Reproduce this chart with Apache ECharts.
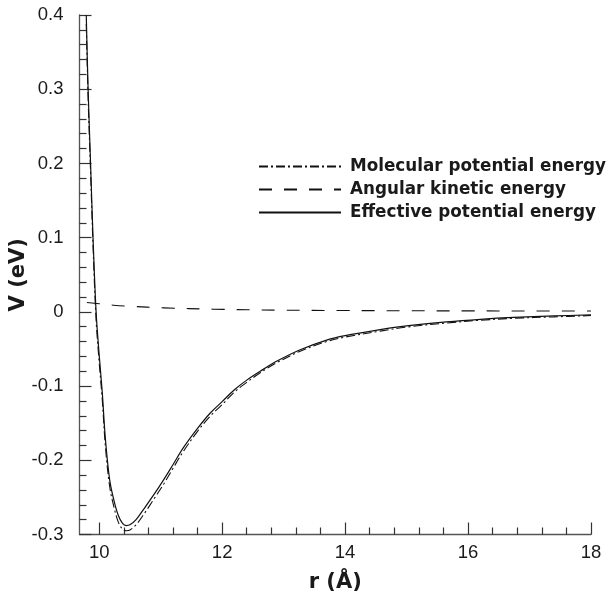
<!DOCTYPE html>
<html>
<head>
<meta charset="utf-8">
<script src="https://cdn.jsdelivr.net/npm/echarts@6/dist/echarts.min.js"></script>
<style>html,body{margin:0;padding:0;background:#fff}#c{width:609px;height:596px}</style>
</head>
<body>
<div id="c"></div>
<script>
// Data
const rEff = [9.79, 9.82, 9.86, 9.90, 9.95, 10.0, 10.05, 10.1, 10.17, 10.24, 10.31, 10.38, 10.44, 10.5, 10.6, 10.74, 10.9, 11.05, 11.2, 11.37, 11.6, 11.8, 12.0, 12.2, 12.4, 12.62, 12.9, 13.27, 13.7, 14.0, 14.57, 15.0, 15.65, 16.2, 16.74, 17.4, 18.0];
const effective = [0.40, 0.30, 0.20, 0.10, 0.00, -0.058, -0.108, -0.170, -0.226, -0.254, -0.274, -0.285, -0.288, -0.287, -0.280, -0.264, -0.245, -0.226, -0.206, -0.183, -0.157, -0.137, -0.121, -0.105, -0.092, -0.080, -0.066, -0.051, -0.038, -0.032, -0.024, -0.019, -0.0135, -0.010, -0.0075, -0.0055, -0.004];
const molecular = [0.388, 0.288, 0.189, 0.089, -0.011, -0.068, -0.118, -0.180, -0.235, -0.263, -0.283, -0.293, -0.295, -0.294, -0.287, -0.271, -0.251, -0.232, -0.211, -0.188, -0.161, -0.141, -0.125, -0.108, -0.095, -0.082, -0.068, -0.053, -0.040, -0.034, -0.026, -0.0205, -0.015, -0.0113, -0.0087, -0.0067, -0.005];
const rAng = [9.80, 10.0, 10.23, 10.5, 11.05, 11.86, 12.94, 14.0, 15.0, 16.0, 17.0, 18.0];
const angular = [0.0127, 0.011, 0.009, 0.0075, 0.0054, 0.0036, 0.0023, 0.0018, 0.0015, 0.0013, 0.0012, 0.0011];
const xMajorTicks = [10, 12, 14, 16, 18];
const xMinorTicks = [10.4, 10.8, 11.2, 11.6, 12.4, 12.8, 13.2, 13.6, 14.4, 14.8, 15.2, 15.6, 16.4, 16.8, 17.2, 17.6];
const seriesNames = ['Molecular potential energy', 'Angular kinetic energy', 'Effective potential energy'];

const pair = (xs, ys) => xs.map((x, i) => [x, ys[i]]);
const FONT = '"Liberation Sans", Arial, Helvetica, sans-serif';
const BFONT = '"DejaVu Sans", "Liberation Sans", Arial, sans-serif';
const AXC = '#555';

const chart = echarts.init(document.getElementById('c'), null, {renderer: 'canvas'});
chart.setOption({
  animation: false,
  backgroundColor: '#fff',
  grid: {left: 79.5, right: 18, top: 15, bottom: 61.5, containLabel: false, outerBoundsMode: 'none'},
  legend: {
    orient: 'vertical', left: 253, top: 153,
    itemWidth: 82, itemHeight: 14, itemGap: 6,
    data: seriesNames,
    itemStyle: {opacity: 0},
    textStyle: {fontFamily: BFONT, fontWeight: 'bold', fontSize: 16.8, color: '#1a1a1a', padding: [0, 0, 0, 4]}
  },
  xAxis: [{
    type: 'value', min: 9.68, max: 18,
    name: 'r (Å)', nameLocation: 'middle', nameGap: 38,
    nameTextStyle: {fontFamily: BFONT, fontWeight: 'bold', fontSize: 21, color: '#1a1a1a'},
    axisLine: {show: true, onZero: false, lineStyle: {color: AXC, width: 1.3}},
    axisTick: {show: true, inside: true, length: 12, customValues: xMajorTicks, lineStyle: {color: '#333', width: 1.2}},
    axisLabel: {customValues: xMajorTicks, margin: 9, fontFamily: FONT, fontSize: 18.5, color: '#1a1a1a'},
    splitLine: {show: false}
  }, {
    type: 'value', min: 9.68, max: 18, position: 'bottom',
    axisLine: {show: false, onZero: false},
    axisTick: {show: true, inside: true, length: 7, customValues: xMinorTicks, lineStyle: {color: '#333', width: 1.2}},
    axisLabel: {show: false},
    splitLine: {show: false}
  }],
  yAxis: {
    type: 'value', min: -0.3, max: 0.4, interval: 0.1,
    name: 'V (eV)', nameLocation: 'middle', nameGap: 50, nameMoveOverlap: false,
    nameTextStyle: {fontFamily: BFONT, fontWeight: 'bold', fontSize: 21, color: '#1a1a1a'},
    axisLine: {show: true, onZero: false, lineStyle: {color: AXC, width: 1.3}},
    axisTick: {show: true, inside: true, length: 12, lineStyle: {color: '#333', width: 1.2}},
    minorTick: {show: true, splitNumber: 5, length: 7, lineStyle: {color: '#333', width: 1.2}},
    axisLabel: {margin: 16, fontFamily: FONT, fontSize: 18.5, color: '#1a1a1a',
      formatter: v => (Math.abs(v) < 1e-9 ? '0' : String(Math.round(v * 10) / 10))},
    splitLine: {show: false}
  },
  series: [{
    name: seriesNames[0], type: 'line', symbol: 'none', smooth: 0.35,
    data: pair(rEff, molecular),
    lineStyle: {color: '#111', width: 1.1, type: [9, 3, 2, 3]},
    itemStyle: {color: '#111'}
  }, {
    name: seriesNames[1], type: 'line', symbol: 'none', smooth: 0.35,
    data: pair(rAng, angular),
    lineStyle: {color: '#111', width: 1.1, type: [13, 12]},
    itemStyle: {color: '#111'}
  }, {
    name: seriesNames[2], type: 'line', symbol: 'none', smooth: 0.35,
    data: pair(rEff, effective),
    lineStyle: {color: '#111', width: 1.2, type: 'solid'},
    itemStyle: {color: '#111'}
  }]
});
</script>
</body>
</html>
